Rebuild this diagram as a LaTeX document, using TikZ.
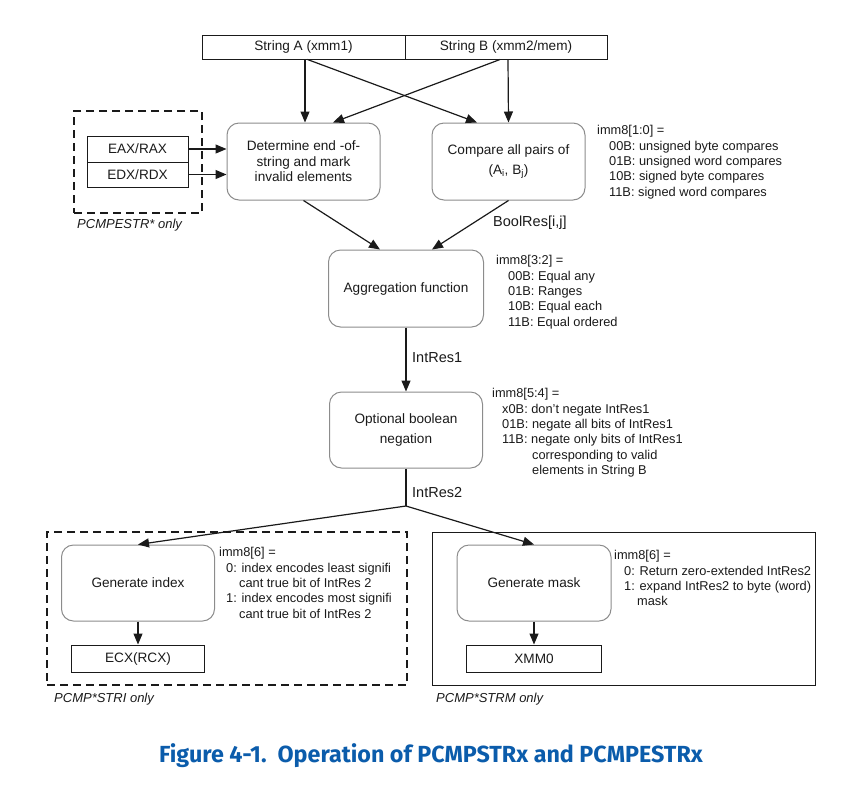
\documentclass[tikz,border=0pt]{standalone}
\usepackage{fontspec}
\setmainfont{Liberation Sans}
\newfontfamily\capfont{Fira Sans}
\usetikzlibrary{arrows.meta}
\definecolor{capblue}{HTML}{0B5CAB}
\definecolor{rboxc}{HTML}{8C8C8C}
\definecolor{ink}{HTML}{1A1A1A}
\begin{document}
\begin{tikzpicture}[x=1pt,y=-1pt,
  roundbox/.style={draw=rboxc, line width=1pt, rounded corners=12pt, align=center, inner sep=0pt,
    font=\fontsize{13.6}{15.5}\selectfont, text=ink},
  sqbox/.style={draw=ink, line width=1pt, inner sep=0pt, font=\fontsize{13.6}{15.5}\selectfont, text=ink},
  arr/.style={-{Triangle[length=11pt,width=9pt]}, line width=1.2pt, draw=ink},
  plainline/.style={line width=1.2pt, draw=ink},
  dbox/.style={draw=ink, line width=2.2pt, dash pattern=on 8pt off 5pt, inner sep=0pt},
  solidbox/.style={draw=ink, line width=1pt, inner sep=0pt},
  note/.style={anchor=north west, align=left, inner sep=0pt, font=\fontsize{12.8}{15.3}\selectfont, text=ink},
  tag/.style={anchor=base west, inner sep=0pt, font=\itshape\fontsize{13}{15}\selectfont, text=ink},
  lab/.style={anchor=base west, inner sep=0pt, font=\fontsize{14.5}{16}\selectfont, text=ink}]
\useasboundingbox (0,0) rectangle (864,788);

% group frames
\node[dbox, minimum width=128pt, minimum height=102pt] (pe) at (138,162) {};
\node[dbox, minimum width=360pt, minimum height=153pt] (stri) at (227,608.5) {};
\node[solidbox, minimum width=383pt, minimum height=153pt] (strm) at (623.5,608.5) {};

% top strings
\node[sqbox, minimum width=203pt, minimum height=24pt] (sa) at (303.5,47) {String A (xmm1)};
\node[sqbox, minimum width=202pt, minimum height=24pt] (sb) at (506,47) {String B (xmm2/mem)};

% registers
\node[sqbox, minimum width=101pt, minimum height=26pt] (eax) at (137.5,149) {EAX/RAX};
\node[sqbox, minimum width=101pt, minimum height=25pt] (edx) at (137.5,174.5) {EDX/RDX};

% process boxes
\node[roundbox, minimum width=153pt, minimum height=77pt] (det) at (303.5,161.5)
  {Determine end -of-\\string and mark\\invalid elements};
\node[roundbox, minimum width=153pt, minimum height=77pt] (cmp) at (508.5,161.5)
  {Compare all pairs of\\[4pt](A\textsubscript{i}, B\textsubscript{j})};
\node[roundbox, minimum width=155pt, minimum height=77pt] (agg) at (406,288.5) {Aggregation function};
\node[roundbox, minimum width=153pt, minimum height=76pt] (opt) at (406,430)
  {Optional boolean\\[4pt]negation};
\node[roundbox, minimum width=153pt, minimum height=76pt] (gi) at (138,583) {Generate index};
\node[roundbox, minimum width=154pt, minimum height=76pt] (gm) at (534,583) {Generate mask};
\node[sqbox, minimum width=133pt, minimum height=27pt] (ecx) at (138,658.5) {ECX(RCX)};
\node[sqbox, minimum width=135pt, minimum height=27pt] (xmm) at (534,658.5) {XMM0};

% connectors
\draw[arr] ([xshift=1.5pt]sa.south) -- ([xshift=1.5pt]det.north);
\draw[arr] ([xshift=2pt]sb.south) -- (cmp.north);
\draw[arr] ([xshift=4pt]sa.south) -- ([xshift=-31.5pt]cmp.north);
\draw[arr] ([xshift=-6pt]sb.south) -- ([xshift=29.5pt]det.north);
\draw[arr] (eax.east) -- (det.west |- eax.east);
\draw[arr] (edx.east) -- (det.west |- edx.east);
\draw[arr] (det.south) -- ([xshift=-26pt]agg.north);
\draw[arr] (cmp.south) -- ([xshift=26pt]agg.north);
\draw[arr] (agg.south) -- (opt.north);
\coordinate (fork) at (406,506);
\draw[plainline] (opt.south) -- (fork);
\draw[arr] (fork) -- (gi.north);
\draw[arr] (fork) -- (gm.north);
\draw[arr] (gi.south) -- (ecx.north);
\draw[arr] (gm.south) -- (xmm.north);

% labels
\node[lab] (boolres) at (493,226) {BoolRes[i,j]};
\node[lab] (ir1) at (412,362) {IntRes1};
\node[lab] (ir2) at (412,497) {IntRes2};
\node[tag] (tpe) at (77,228) {PCMPESTR* only};
\node[tag] (tstri) at (54,702) {PCMP*STRI only};
\node[tag] (tstrm) at (436,702) {PCMP*STRM only};

% notes
\node[note] (n10) at (597,125.5) {imm8[1:0] =\\
\hspace*{12pt}00B: unsigned byte compares\\
\hspace*{12pt}01B: unsigned word compares\\
\hspace*{12pt}10B: signed byte compares\\
\hspace*{12pt}11B: signed word compares};
\node[note] (n32) at (496,255.5) {imm8[3:2] =\\
\hspace*{12pt}00B: Equal any\\
\hspace*{12pt}01B: Ranges\\
\hspace*{12pt}10B: Equal each\\
\hspace*{12pt}11B: Equal ordered};
\node[note] (n54) at (492,388.5) {imm8[5:4] =\\
\hspace*{10pt}x0B: don’t negate IntRes1\\
\hspace*{10pt}01B: negate all bits of IntRes1\\
\hspace*{10pt}11B: negate only bits of IntRes1\\
\hspace*{40pt}corresponding to valid\\
\hspace*{40pt}elements in String B};
\node[note] (n6a) at (219,547.5) {imm8[6] =\\
\hspace*{7pt}0: index encodes least signifi\\
\hspace*{20pt}cant true bit of IntRes 2\\
\hspace*{7pt}1: index encodes most signifi\\
\hspace*{20pt}cant true bit of IntRes 2};
\node[note] (n6b) at (614,550.5) {imm8[6] =\\
\hspace*{10pt}0: Return zero-extended IntRes2\\
\hspace*{10pt}1: expand IntRes2 to byte (word)\\
\hspace*{23pt}mask};

% caption
\node[font=\capfont\bfseries\fontsize{23.3}{26}\selectfont, text=capblue, inner sep=0pt] (cap) at (431,756)
  {Figure 4-1.\ \ Operation of PCMPSTRx and PCMPESTRx};
\end{tikzpicture}
\end{document}
